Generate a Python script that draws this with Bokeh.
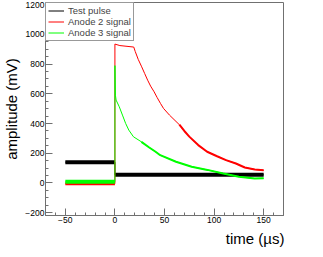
from bokeh.plotting import figure
from bokeh.models import Legend, LegendItem, SingleIntervalTicker, Range1d, Title
from bokeh.embed import file_html
from bokeh.resources import INLINE

# ---- data ----
test_t = [-50, 0, 0, 150]
test_v = [140, 140, 55, 55]

anode2_t = [-50, 0, 0, 5, 19, 20.5, 23.5, 27, 30, 33, 36, 39.5, 42.5, 46, 49, 55,
            65, 70, 75, 84, 93, 103, 112, 122, 131, 141, 150]
anode2_v = [-5, -5, 935, 925, 915, 885, 832, 782, 737, 692, 652, 614, 576, 535, 502, 457,
            392, 350, 312, 255, 210, 180, 154, 131, 104, 91, 85]

anode3_t = [-50, 0, 0, 0.5, 1.2, 4.4, 7.6, 10.8, 14, 18.7, 26.7, 34.6, 41, 45.7,
            61.6, 77.4, 93.3, 109.2, 125, 141, 150]
anode3_v = [8, 8, 790, 591, 558, 513, 457, 401, 356, 311, 277, 239, 210, 187,
            143, 109, 88, 64, 42, 30, 32]

series_names = ["Test pulse", "Anode 2 signal", "Anode 3 signal"]
series_colors = ["#000000", "#ff0000", "#00ff00"]
x_title = "time (µs)"
y_title = "amplitude (mV)"

FONT = "Liberation Sans"
AX = "#707070"

p = figure(width=315, height=249, output_backend="svg", toolbar_location=None,
           x_range=Range1d(-70, 170), y_range=Range1d(-219, 1215),
           min_border_left=36, min_border_right=32, min_border_top=2, min_border_bottom=34)
p.grid.visible = False
p.outline_line_color = AX
p.outline_line_width = 1
p.background_fill_color = "white"
p.border_fill_color = "white"

p.xaxis.ticker = SingleIntervalTicker(interval=50, num_minor_ticks=5)
p.yaxis.ticker = SingleIntervalTicker(interval=200, num_minor_ticks=4)
for ax in (p.xaxis, p.yaxis):
    ax.axis_line_color = AX
    ax.major_tick_line_color = AX
    ax.minor_tick_line_color = AX
    ax.major_tick_out = 0
    ax.minor_tick_out = 0
    ax.major_tick_in = 7
    ax.minor_tick_in = 3
    ax.major_label_text_font = FONT
    ax.major_label_text_font_size = "8.5px"
    ax.major_label_text_color = "#000000"
    ax.major_label_standoff = 1

p.yaxis.axis_label = y_title
p.yaxis.axis_label_standoff = 2
p.yaxis.axis_label_text_font = FONT
p.yaxis.axis_label_text_font_size = "15px"
p.yaxis.axis_label_text_font_style = "normal"
p.yaxis.axis_label_text_color = "black"

r_test = p.line(test_t, test_v, line_color=series_colors[0], line_width=1)
p.line(test_t[:2], test_v[:2], line_color=series_colors[0], line_width=4)
p.line(test_t[2:], test_v[2:], line_color=series_colors[0], line_width=4)

r_a2 = p.line(anode2_t, anode2_v, line_color=series_colors[1], line_width=1)
p.line(anode2_t[:2], anode2_v[:2], line_color=series_colors[1], line_width=3)
p.line(anode2_t[16:], anode2_v[16:], line_color=series_colors[1], line_width=2)

r_a3 = p.line(anode3_t, anode3_v, line_color=series_colors[2], line_width=1)
p.line(anode3_t[:2], anode3_v[:2], line_color=series_colors[2], line_width=4)
p.line(anode3_t[10:], anode3_v[10:], line_color=series_colors[2], line_width=2)

legend = Legend(items=[LegendItem(label=series_names[0], renderers=[r_test]),
                       LegendItem(label=series_names[1], renderers=[r_a2]),
                       LegendItem(label=series_names[2], renderers=[r_a3])],
                location="top_left", margin=0, padding=2, spacing=0,
                label_height=11, glyph_height=11, glyph_width=16, label_standoff=4,
                label_text_font=FONT, label_text_font_size="9.5px",
                border_line_color="#333333", border_line_width=1,
                background_fill_color="white", background_fill_alpha=1)
p.add_layout(legend)

p.add_layout(Title(text=x_title, align="right", offset=-1, standoff=4,
                   text_font=FONT, text_font_size="15px", text_font_style="normal",
                   text_color="black"), "below")

open("out.html", "w").write(file_html(p, INLINE))
